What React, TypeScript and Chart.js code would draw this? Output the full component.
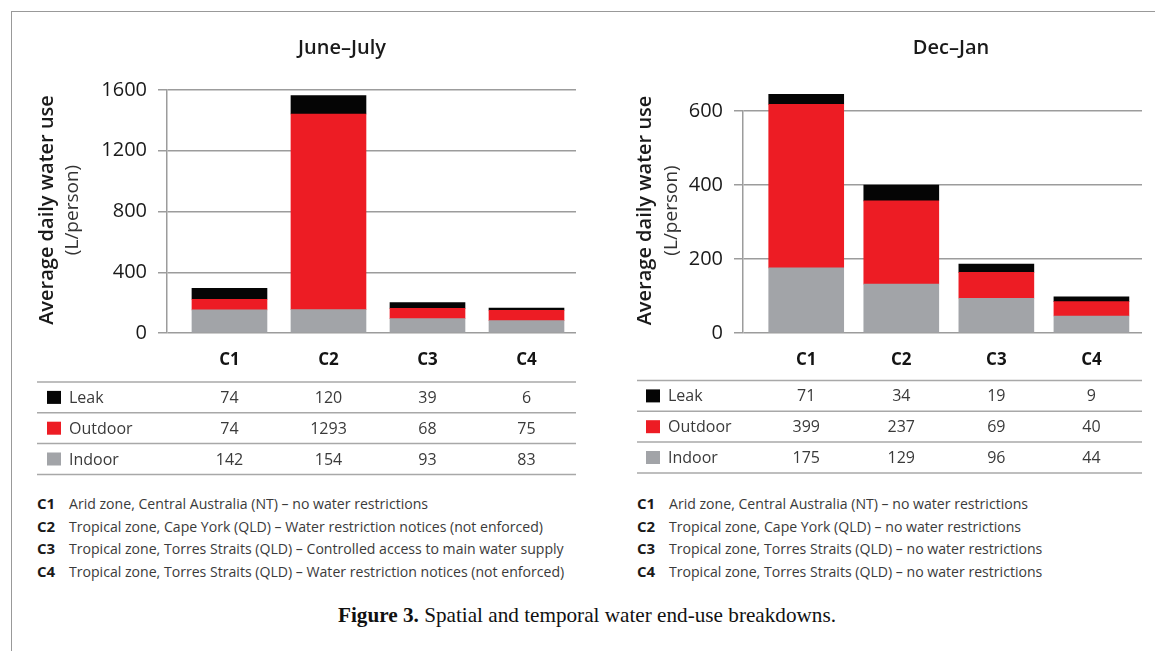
import React, { useEffect, useRef } from 'react';
import { Chart, registerables } from 'chart.js';

Chart.register(...registerables);

// ---------- data ----------
const categories = ['C1', 'C2', 'C3', 'C4'];
const seriesNames = ['Leak', 'Outdoor', 'Indoor'];

// values printed in the tables
const juneIndoor = [142, 154, 93, 83];
const juneOutdoor = [74, 1293, 68, 75];
const juneLeak = [74, 120, 39, 6];
const decIndoor = [175, 129, 96, 44];
const decOutdoor = [399, 237, 69, 40];
const decLeak = [71, 34, 19, 9];

// bar segment heights as drawn in the picture
const juneBarIndoor = [152, 154, 95, 82];
const juneBarOutdoor = [70, 1288, 67, 68];
const juneBarLeak = [72, 122, 38, 14];
const decBarIndoor = [176, 132, 94, 46];
const decBarOutdoor = [442, 225, 70, 39];
const decBarLeak = [27, 43, 22, 13];

const juneTicks = [0, 400, 800, 1200, 1600];
const decTicks = [0, 200, 400, 600];

const juneNotes = [
  'Arid zone, Central Australia (NT) – no water restrictions',
  'Tropical zone, Cape York (QLD) – Water restriction notices (not enforced)',
  'Tropical zone, Torres Straits (QLD) – Controlled access to main water supply',
  'Tropical zone, Torres Straits (QLD) – Water restriction notices (not enforced)',
];
const decNotes = [
  'Arid zone, Central Australia (NT) – no water restrictions',
  'Tropical zone, Cape York (QLD) – no water restrictions',
  'Tropical zone, Torres Straits (QLD) – no water restrictions',
  'Tropical zone, Torres Straits (QLD) – no water restrictions',
];

const yTitle = 'Average daily water use';
const yUnit = '(L/person)';

// ---------- styles ----------
const COLORS: Record<string, string> = {
  Leak: '#050505',
  Outdoor: '#ED1C24',
  Indoor: '#A2A4A8',
};
const GRID = '#9c9c9c';
const SANS = '"Open Sans", "Noto Sans", sans-serif';

type Geom = {
  canvasLeft: number;
  canvasWidth: number;
  canvasHeight: number;
  yAxisWidth: number;
  top: number;
  bottom: number;
  padRight: number;
  xMin: number;
  xMax: number;
  titleX: number;
  titleY: number;
  yTitleX: number;
  yUnitX: number;
  yTitleY: number;
  tableLeft: number;
  tableTop: number;
  rowH: number;
  swatchX: number;
  labelX: number;
};

type PanelProps = {
  title: string;
  bars: { Indoor: number[]; Outdoor: number[]; Leak: number[] };
  table: { Indoor: number[]; Outdoor: number[]; Leak: number[] };
  ticks: number[];
  geom: Geom;
};

function Panel({ title, bars, table, ticks, geom }: PanelProps) {
  const ref = useRef<HTMLCanvasElement | null>(null);
  useEffect(() => {
    if (!ref.current) return;
    const panelPlugin = {
      id: 'panelExtras',
      afterDraw(chart: any) {
        const ctx = chart.ctx as CanvasRenderingContext2D;
        const area = chart.chartArea;
        const xs = chart.scales.x;
        ctx.save();
        // title
        ctx.fillStyle = '#1a1a1a';
        ctx.font = `600 20px ${SANS}`;
        ctx.textAlign = 'center';
        ctx.textBaseline = 'middle';
        ctx.fillText(title, geom.titleX, geom.titleY);
        // y axis titles
        ctx.save();
        ctx.translate(geom.yTitleX, geom.yTitleY);
        ctx.rotate(-Math.PI / 2);
        ctx.font = `600 20px ${SANS}`;
        ctx.fillStyle = '#1a1a1a';
        ctx.fillText(yTitle, 0, 0);
        ctx.restore();
        ctx.save();
        ctx.translate(geom.yUnitX, geom.yTitleY);
        ctx.rotate(-Math.PI / 2);
        ctx.font = `400 19px ${SANS}`;
        ctx.fillStyle = '#333';
        ctx.fillText(yUnit, 0, 0);
        ctx.restore();
        // table
        ctx.strokeStyle = '#a8a8a8';
        ctx.lineWidth = 1.5;
        for (let r = 0; r <= seriesNames.length; r++) {
          const y = geom.tableTop + r * geom.rowH;
          ctx.beginPath();
          ctx.moveTo(geom.tableLeft, y);
          ctx.lineTo(area.right, y);
          ctx.stroke();
        }
        ctx.font = `400 16px ${SANS}`;
        seriesNames.forEach((name, r) => {
          const cy = geom.tableTop + (r + 0.5) * geom.rowH;
          ctx.fillStyle = COLORS[name];
          ctx.fillRect(geom.swatchX, cy - 6.5, 14, 13);
          ctx.fillStyle = '#3a3a3a';
          ctx.textAlign = 'left';
          ctx.fillText(name, geom.labelX, cy + 1);
          ctx.textAlign = 'center';
          (table as any)[name].forEach((v: number, i: number) => {
            ctx.fillText(String(v), xs.getPixelForValue(i), cy + 1);
          });
        });
        ctx.restore();
      },
    };

    const mk = (vals: number[]) => vals.map((v, i) => ({ x: i, y: v }));
    const chart = new Chart(ref.current, {
      type: 'bar',
      data: {
        datasets: [
          { label: 'Indoor', data: mk(bars.Indoor), backgroundColor: COLORS.Indoor },
          { label: 'Outdoor', data: mk(bars.Outdoor), backgroundColor: COLORS.Outdoor },
          { label: 'Leak', data: mk(bars.Leak), backgroundColor: COLORS.Leak },
        ] as any,
      },
      options: {
        animation: false,
        responsive: false,
        maintainAspectRatio: false,
        devicePixelRatio: 1,
        datasets: { bar: { barThickness: 75, clip: false as any, borderWidth: 0 } } as any,
        layout: { padding: { left: 0, right: geom.padRight, top: geom.top, bottom: 0 } },
        plugins: { legend: { display: false }, tooltip: { enabled: false }, title: { display: false } },
        scales: {
          x: {
            type: 'linear',
            stacked: true,
            offset: false,
            min: geom.xMin,
            max: geom.xMax,
            afterBuildTicks: (s: any) => {
              s.ticks = categories.map((_, i) => ({ value: i }));
            },
            afterFit: (s: any) => {
              s.height = geom.canvasHeight - geom.bottom;
            },
            ticks: {
              autoSkip: false,
              maxRotation: 0,
              padding: 17,
              color: '#141414',
              font: { family: SANS, size: 17, weight: 'bold' },
              callback: (v: any) => categories[Number(v)] ?? '',
            },
            grid: { display: false, drawTicks: false, offset: false },
            border: { display: false },
          },
          y: {
            stacked: true,
            min: 0,
            max: ticks[ticks.length - 1],
            afterBuildTicks: (s: any) => {
              s.ticks = ticks.map((v) => ({ value: v }));
            },
            afterFit: (s: any) => {
              s.width = geom.yAxisWidth;
            },
            ticks: {
              padding: 11,
              color: '#1a1a1a',
              font: { family: SANS, size: 20 },
              callback: (v: any) => String(v),
            },
            grid: { color: GRID, lineWidth: 1.5, tickLength: 9, drawTicks: true },
            border: { display: true, color: GRID, width: 1.5 },
          },
        } as any,
      },
      plugins: [panelPlugin],
    });
    return () => chart.destroy();
  }, []);
  return (
    <canvas
      ref={ref}
      width={geom.canvasWidth}
      height={geom.canvasHeight}
      style={{ position: 'absolute', left: geom.canvasLeft, top: 0, width: geom.canvasWidth, height: geom.canvasHeight }}
    />
  );
}

function Notes({ notes, left, top }: { notes: string[]; left: number; top: number }) {
  return (
    <div style={{ position: 'absolute', left, top, fontFamily: SANS, fontSize: 14.1, color: '#3a3a3a' }}>
      {notes.map((n, i) => (
        <div key={i} style={{ height: 22.7, lineHeight: '22.7px', whiteSpace: 'nowrap' }}>
          <span style={{ display: 'inline-block', width: 32, fontWeight: 700, color: '#1a1a1a', fontSize: 15 }}>{categories[i]}</span>
          <span>{n}</span>
        </div>
      ))}
    </div>
  );
}

const leftGeom: Geom = {
  canvasLeft: 0,
  canvasWidth: 590,
  canvasHeight: 480,
  yAxisWidth: 167,
  top: 90,
  bottom: 333,
  padRight: 14,
  xMin: -0.631,
  xMax: 3.5,
  titleX: 342,
  titleY: 48,
  yTitleX: 47.5,
  yUnitX: 73,
  yTitleY: 210,
  tableLeft: 37,
  tableTop: 382,
  rowH: 30.8,
  swatchX: 47,
  labelX: 69,
};

const rightGeom: Geom = {
  canvasLeft: 590,
  canvasWidth: 565,
  canvasHeight: 480,
  yAxisWidth: 153,
  top: 111,
  bottom: 333,
  padRight: 13,
  xMin: -0.665,
  xMax: 3.532,
  titleX: 361,
  titleY: 48,
  yTitleX: 55.5,
  yUnitX: 81.5,
  yTitleY: 210.5,
  tableLeft: 47,
  tableTop: 380.5,
  rowH: 30.8,
  swatchX: 56,
  labelX: 78,
};

export default function App() {
  return (
    <div style={{ position: 'absolute', left: 0, top: 0, width: 1155, height: 651, background: '#fff', overflow: 'hidden' }}>
      <div style={{ position: 'absolute', left: 11, top: 11, width: 1155, height: 700, borderTop: '1px solid #999', borderLeft: '1px solid #999' }} />
      <Panel
        title="June–July"
        bars={{ Indoor: juneBarIndoor, Outdoor: juneBarOutdoor, Leak: juneBarLeak }}
        table={{ Indoor: juneIndoor, Outdoor: juneOutdoor, Leak: juneLeak }}
        ticks={juneTicks}
        geom={leftGeom}
      />
      <Panel
        title="Dec–Jan"
        bars={{ Indoor: decBarIndoor, Outdoor: decBarOutdoor, Leak: decBarLeak }}
        table={{ Indoor: decIndoor, Outdoor: decOutdoor, Leak: decLeak }}
        ticks={decTicks}
        geom={rightGeom}
      />
      <Notes notes={juneNotes} left={37} top={492} />
      <Notes notes={decNotes} left={637} top={492} />
      <div style={{ position: 'absolute', left: 338, top: 603, fontFamily: '"Liberation Serif", "DejaVu Serif", serif', fontSize: 21.2, color: '#111', whiteSpace: 'nowrap' }}>
        <b>Figure 3.</b> Spatial and temporal water end-use breakdowns.
      </div>
    </div>
  );
}
